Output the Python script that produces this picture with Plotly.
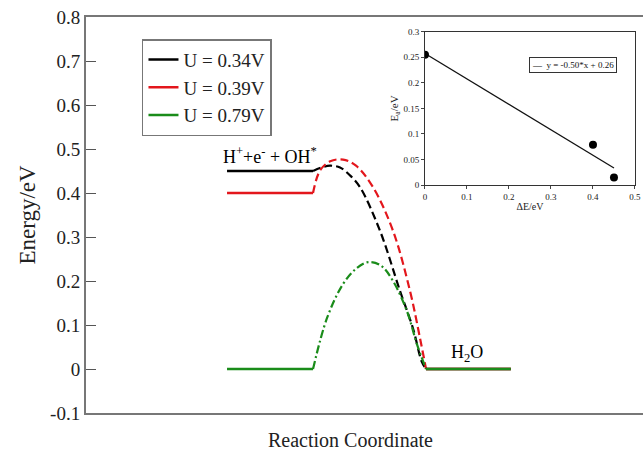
import numpy as np
import plotly.graph_objects as go

# ---- main chart data (reaction coordinate units, energy in eV) ----
series_names = ["U = 0.34V", "U = 0.39V", "U = 0.79V"]
series_colors = ["#000000", "#e3161c", "#1a8c1a"]

reactant_x = [0.0, 1.0]
product_x = [2.314, 3.3]
reactant_E = [0.45, 0.40, 0.0]
product_E = [0.0, 0.0, 0.0]

barrier_x_black = [1.0, 1.1, 1.198, 1.314, 1.43, 1.547, 1.779, 2.012, 2.163, 2.264, 2.314]
barrier_E_black = [0.45, 0.458, 0.462, 0.458, 0.44, 0.413, 0.314, 0.177, 0.092, 0.017, 0.0]
barrier_x_red = [1.0, 1.081, 1.2, 1.349, 1.5, 1.698, 1.930, 2.128, 2.244, 2.314]
barrier_E_red = [0.40, 0.451, 0.472, 0.476, 0.462, 0.413, 0.314, 0.177, 0.07, 0.0]
barrier_x_green = [1.0, 1.163, 1.349, 1.5, 1.640, 1.79, 1.930, 2.093, 2.209, 2.314]
barrier_E_green = [0.0, 0.116, 0.193, 0.228, 0.243, 0.235, 0.2, 0.131, 0.056, 0.0]
barrier_x = [barrier_x_black, barrier_x_red, barrier_x_green]
barrier_E = [barrier_E_black, barrier_E_red, barrier_E_green]
dash_styles = ["8px,4px", "8px,4px", "8px,3px,2px,3px"]

y_tickvals = [-0.1, 0, 0.1, 0.2, 0.3, 0.4, 0.5, 0.6, 0.7, 0.8]
y_ticktext = ["-0.1", "0", "0.1", "0.2", "0.3", "0.4", "0.5", "0.6", "0.7", "0.8"]

# ---- inset data ----
dE = [0.0, 0.40, 0.45]
Ea = [0.255, 0.079, 0.015]
inset_xticks = [0, 0.1, 0.2, 0.3, 0.4, 0.5]
inset_xtext = ["0", "0.1", "0.2", "0.3", "0.4", "0.5"]
inset_yticks = [0, 0.05, 0.1, 0.15, 0.2, 0.25, 0.3]
inset_ytext = ["0", "0.05", "0.1", "0.15", "0.2", "0.25", "0.3"]

SERIF = "Liberation Serif"
fig = go.Figure()

for i in range(3):
    fig.add_trace(go.Scatter(
        x=barrier_x[i], y=barrier_E[i], mode="lines", line_shape="spline",
        line=dict(color=series_colors[i], width=2.2, dash=dash_styles[i]),
        showlegend=False, hoverinfo="skip"))
for i in range(3):
    fig.add_trace(go.Scatter(
        x=reactant_x, y=[reactant_E[i]] * 2, mode="lines",
        line=dict(color=series_colors[i], width=2.5),
        name=series_names[i], showlegend=True))
    fig.add_trace(go.Scatter(
        x=product_x, y=[product_E[i]] * 2, mode="lines",
        line=dict(color=series_colors[i], width=2.5), showlegend=False))

# inset
m, b = np.polyfit(dE, Ea, 1)
fit_x = [min(dE), max(dE)]
fit_y = [m * v + b for v in fit_x]
fig.add_trace(go.Scatter(
    x=fit_x, y=fit_y, mode="lines", xaxis="x2", yaxis="y2",
    line=dict(color="#111111", width=1.3), showlegend=False))
fig.add_trace(go.Scatter(
    x=dE, y=Ea, mode="markers", xaxis="x2", yaxis="y2",
    marker=dict(color="black", size=8), showlegend=False))

# inset legend box (fit equation)
fig.add_annotation(x=0.795, y=0.899, xref="paper", yref="paper", xanchor="left", yanchor="top",
                   text=f"\u2014  y = {m:.2f}*x + {b:.2f}", showarrow=False,
                   bordercolor="#333333", borderwidth=1, borderpad=2, bgcolor="white",
                   font=dict(family=SERIF, size=9, color="#111111"))

# labels
fig.add_annotation(x=-0.07, y=0.486, xref="x", yref="y", xanchor="left", yanchor="middle",
                   text="H<sup>+</sup>+e<sup>-</sup> + OH<sup>*</sup>", showarrow=False,
                   font=dict(family=SERIF, size=18, color="black"))
fig.add_annotation(x=2.79, y=0.035, xref="x", yref="y", xanchor="center", yanchor="middle",
                   text="H<sub>2</sub>O", showarrow=False,
                   font=dict(family=SERIF, size=18, color="black"))
fig.add_annotation(x=0.475, y=-0.068, xref="paper", yref="paper", xanchor="center", yanchor="middle",
                   text="Reaction Coordinate", showarrow=False,
                   font=dict(family=SERIF, size=20, color="#222222"))

fig.update_layout(
    width=643, height=457,
    margin=dict(l=86, r=0, t=17, b=44, autoexpand=False),
    plot_bgcolor="white", paper_bgcolor="white",
    font=dict(family=SERIF, color="#222222"),
    xaxis=dict(range=[-1.64, 4.837], showline=True, mirror=True, linecolor="#777777",
               linewidth=2, showgrid=False, zeroline=False, showticklabels=False, ticks="",
               automargin=False),
    yaxis=dict(range=[-0.1, 0.8], showline=True, linecolor="#777777", linewidth=2,
               showgrid=False, zeroline=False, ticks="inside", ticklen=10, tickcolor="#555555",
               tickvals=y_tickvals, ticktext=y_ticktext, tickfont=dict(size=19, family=SERIF),
               automargin=False,
               title=dict(text="Energy/eV", font=dict(size=23, family=SERIF), standoff=8)),
    xaxis2=dict(domain=[0.6086, 0.9856], anchor="y2", range=[0, 0.5], showline=True, mirror=True,
                linecolor="#333333", linewidth=1, showgrid=False, zeroline=False,
                ticks="outside", ticklen=3, tickvals=inset_xticks, ticktext=inset_xtext,
                tickfont=dict(size=9, family=SERIF), automargin=False,
                title=dict(text="ΔE/eV", font=dict(size=10, family=SERIF), standoff=2)),
    yaxis2=dict(domain=[0.5754, 0.9629], anchor="x2", range=[0, 0.3], showline=True, mirror=True,
                linecolor="#333333", linewidth=1, showgrid=False, zeroline=False,
                ticks="outside", ticklen=3, tickvals=inset_yticks, ticktext=inset_ytext,
                tickfont=dict(size=9, family=SERIF), automargin=False,
                title=dict(text="E<sub>a</sub>/eV", font=dict(size=11, family=SERIF), standoff=2)),
    legend=dict(x=0.1005, y=0.944, xanchor="left", yanchor="top", bordercolor="#777777",
                borderwidth=1.5, bgcolor="white", font=dict(size=19, family=SERIF, color="#222222"),
                itemwidth=30, tracegroupgap=0),
)

fig.write_html("out.html", config={"displayModeBar": False},
               post_script="document.body.style.margin='0';document.body.style.overflow='hidden';")
